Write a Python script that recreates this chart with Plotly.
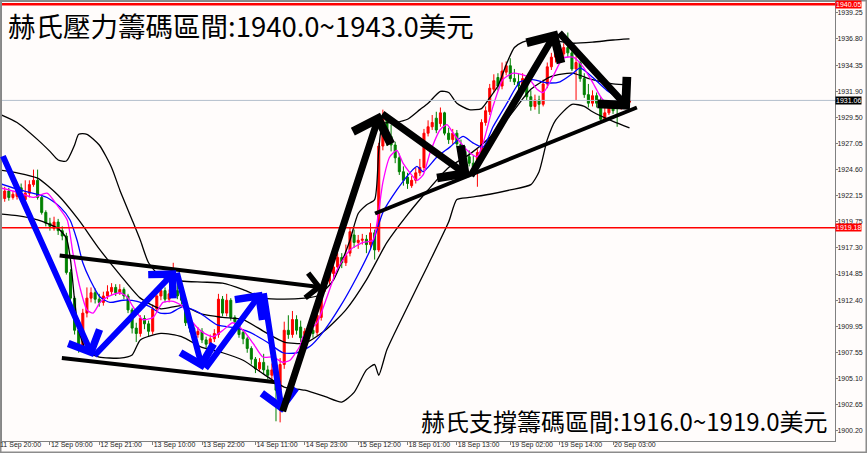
import plotly.graph_objects as go

# hourly XAUUSD candles, bar index 0 = 11 Sep 20:00 (server time)
opens = [
    1922.4, 1923.3, 1921.9, 1922.6, 1922.0, 1922.1, 1922.9, 1921.8, 1922.4, 1923.2,
    1923.6, 1922.0, 1920.6, 1919.6, 1919.1, 1919.7, 1918.9, 1918.4, 1915.0, 1912.6,
    1909.6, 1908.2, 1911.2, 1912.6, 1913.1, 1912.5, 1912.2, 1912.8, 1913.2, 1913.6,
    1913.1, 1913.4, 1912.8, 1911.5, 1909.8, 1909.3, 1910.7, 1910.2, 1909.5, 1911.6,
    1912.8, 1913.3, 1912.5, 1913.0, 1913.3, 1912.8, 1912.4, 1910.3, 1909.8, 1909.2,
    1909.5, 1908.7, 1908.3, 1908.8, 1909.2, 1912.5, 1911.2, 1912.4, 1910.8, 1910.4,
    1909.4, 1908.8, 1907.9, 1906.9, 1906.0, 1906.6, 1905.9, 1905.4, 1905.9, 1904.0,
    1906.4, 1909.6, 1909.2, 1910.6, 1909.9, 1908.9, 1909.8, 1909.6, 1909.4, 1910.8,
    1913.5, 1914.2, 1914.9, 1915.5, 1916.4, 1915.9, 1916.8, 1918.5, 1917.8, 1918.0,
    1918.1, 1917.6, 1918.7, 1917.1, 1926.8, 1929.3, 1927.7, 1926.9, 1925.7, 1924.4,
    1923.9, 1923.1, 1923.6, 1924.3, 1924.8, 1928.0, 1928.6, 1929.4, 1928.9, 1929.9,
    1928.0, 1927.4, 1928.0, 1927.0, 1926.3, 1925.8, 1925.2, 1924.8, 1926.2, 1929.0,
    1930.0, 1932.1, 1933.2, 1932.4, 1933.7, 1934.3, 1933.1, 1932.8, 1932.4, 1933.1,
    1931.4, 1930.5, 1931.1, 1930.7, 1932.6, 1934.2, 1935.1, 1935.8, 1935.4, 1936.0,
    1935.5, 1934.0, 1934.6, 1933.1, 1931.6, 1930.8, 1931.5, 1930.8, 1929.3, 1929.9,
    1930.4, 1930.8, 1930.4, 1930.9, 1930.9,
]
highs = [
    1923.0, 1923.6, 1923.0, 1922.9, 1922.6, 1923.2, 1923.3, 1923.6, 1923.6, 1924.6,
    1924.6, 1922.2, 1920.8, 1920.1, 1920.2, 1920.0, 1919.3, 1918.7, 1915.3, 1912.8,
    1910.2, 1911.6, 1913.6, 1913.6, 1913.5, 1913.0, 1913.2, 1913.8, 1914.0, 1913.9,
    1913.9, 1913.6, 1913.0, 1911.7, 1910.3, 1911.0, 1911.0, 1910.5, 1912.0, 1913.2,
    1913.8, 1913.6, 1913.4, 1915.9, 1914.2, 1913.6, 1912.6, 1910.8, 1910.2, 1909.9,
    1909.8, 1909.0, 1909.2, 1909.7, 1913.0, 1912.8, 1913.0, 1912.6, 1911.0, 1910.6,
    1909.7, 1909.0, 1908.1, 1907.1, 1907.0, 1907.4, 1906.3, 1906.5, 1906.2, 1907.0,
    1910.4, 1911.0, 1911.4, 1911.0, 1910.5, 1909.8, 1910.2, 1910.0, 1911.4, 1913.9,
    1915.0, 1915.4, 1916.1, 1916.8, 1916.8, 1917.6, 1919.2, 1919.0, 1918.5, 1918.6,
    1918.5, 1919.6, 1919.0, 1927.1, 1930.2, 1929.8, 1928.8, 1927.2, 1926.1, 1924.9,
    1924.3, 1924.0, 1924.8, 1925.6, 1928.4, 1929.2, 1929.7, 1930.0, 1930.4, 1930.0,
    1928.5, 1928.4, 1928.3, 1927.4, 1926.8, 1926.4, 1925.9, 1926.5, 1929.3, 1930.5,
    1932.6, 1933.5, 1933.6, 1934.6, 1934.7, 1935.0, 1934.0, 1933.6, 1933.6, 1933.3,
    1932.0, 1931.6, 1931.5, 1933.0, 1934.6, 1935.5, 1936.2, 1936.3, 1936.4, 1937.4,
    1935.9, 1935.2, 1934.8, 1933.6, 1932.6, 1932.0, 1931.8, 1931.4, 1930.4, 1930.8,
    1931.1, 1931.0, 1931.2, 1931.6, 1931.4,
]
lows = [
    1921.9, 1921.6, 1921.6, 1921.7, 1921.8, 1921.8, 1922.1, 1921.2, 1922.0, 1923.0,
    1921.8, 1920.4, 1919.3, 1918.9, 1918.9, 1918.5, 1918.0, 1914.8, 1912.2, 1909.2,
    1907.5, 1907.9, 1910.8, 1912.2, 1912.1, 1911.8, 1911.9, 1912.5, 1912.9, 1912.8,
    1912.9, 1912.5, 1911.2, 1909.3, 1908.5, 1909.0, 1909.7, 1909.0, 1909.2, 1911.3,
    1912.4, 1912.2, 1912.2, 1912.8, 1912.5, 1912.0, 1910.0, 1909.4, 1908.8, 1908.9,
    1908.4, 1907.9, 1908.0, 1908.5, 1908.9, 1910.9, 1910.9, 1910.5, 1910.0, 1908.9,
    1908.3, 1907.5, 1906.4, 1905.6, 1905.7, 1905.5, 1905.0, 1905.0, 1901.1, 1901.0,
    1906.0, 1908.8, 1908.9, 1909.2, 1908.5, 1908.2, 1908.9, 1908.9, 1909.1, 1910.5,
    1913.2, 1913.9, 1914.5, 1915.2, 1915.4, 1915.6, 1916.5, 1917.3, 1917.2, 1917.6,
    1916.8, 1917.3, 1916.2, 1916.9, 1926.4, 1926.8, 1926.3, 1925.2, 1924.1, 1923.1,
    1922.8, 1922.9, 1923.3, 1924.0, 1924.5, 1927.7, 1928.3, 1928.0, 1928.6, 1927.8,
    1927.0, 1927.0, 1926.7, 1926.0, 1925.5, 1924.9, 1924.5, 1923.0, 1925.9, 1928.7,
    1929.7, 1931.8, 1932.0, 1932.1, 1933.4, 1932.8, 1932.5, 1932.0, 1932.2, 1931.1,
    1930.1, 1930.2, 1929.8, 1930.5, 1932.2, 1933.9, 1934.6, 1935.0, 1935.0, 1935.1,
    1933.8, 1931.1, 1932.8, 1931.3, 1930.4, 1930.5, 1930.4, 1929.1, 1929.1, 1929.7,
    1929.8, 1928.6, 1930.2, 1930.7, 1930.8,
]
closes = [
    1922.7, 1921.8, 1922.6, 1922.0, 1922.3, 1922.9, 1922.5, 1922.4, 1923.2, 1923.6,
    1922.0, 1920.6, 1919.6, 1919.3, 1919.7, 1918.9, 1918.4, 1915.0, 1912.6, 1909.6,
    1908.0, 1911.2, 1912.6, 1913.1, 1912.5, 1912.2, 1912.8, 1913.2, 1913.6, 1913.1,
    1913.4, 1912.8, 1911.5, 1909.8, 1909.3, 1910.7, 1910.2, 1909.5, 1911.6, 1912.8,
    1913.3, 1912.5, 1913.0, 1913.3, 1912.8, 1912.4, 1910.3, 1909.8, 1909.2, 1909.5,
    1908.7, 1908.3, 1908.8, 1909.3, 1912.5, 1911.2, 1912.4, 1910.8, 1910.4, 1909.2,
    1908.8, 1907.9, 1906.9, 1906.0, 1906.6, 1905.9, 1905.4, 1905.9, 1904.0, 1906.4,
    1909.6, 1909.2, 1910.6, 1909.6, 1908.9, 1909.5, 1909.3, 1909.3, 1911.0, 1913.5,
    1914.5, 1914.9, 1915.5, 1916.4, 1915.9, 1916.6, 1918.8, 1917.8, 1918.0, 1918.1,
    1917.6, 1918.7, 1917.1, 1926.8, 1929.3, 1927.7, 1926.9, 1925.7, 1924.4, 1923.6,
    1923.3, 1923.6, 1924.3, 1924.8, 1928.0, 1928.6, 1929.0, 1928.3, 1929.9, 1928.0,
    1927.4, 1928.0, 1927.0, 1926.3, 1925.8, 1925.2, 1924.8, 1926.2, 1929.0, 1930.1,
    1932.2, 1932.9, 1932.4, 1933.8, 1934.3, 1933.1, 1932.8, 1932.4, 1933.1, 1931.4,
    1930.5, 1931.1, 1930.7, 1932.6, 1934.2, 1935.1, 1935.8, 1935.4, 1936.0, 1935.5,
    1934.0, 1934.6, 1933.1, 1931.6, 1930.8, 1931.5, 1930.8, 1929.3, 1929.9, 1930.4,
    1930.1, 1930.4, 1930.9, 1931.2, 1931.06,
]
bars = list(range(len(closes)))

# bollinger band
band_idx = [0, 5, 10, 13, 15, 17, 19, 20, 22, 25, 28, 30, 33, 35, 37, 40, 45, 50, 55, 60,
            65, 70, 75, 78, 80, 82, 84, 86, 88, 90, 92, 93, 94, 97, 100, 103, 105, 108,
            110, 112, 115, 118, 120, 122, 124, 126, 128, 130, 135, 140, 145, 150, 154]
band_upper = [1929.9, 1929.0, 1927.4, 1926.3, 1925.5, 1925.4, 1926.9, 1927.9, 1927.9, 1926.9,
              1924.8, 1922.7, 1919.9, 1918.0, 1915.9, 1914.6, 1914.2, 1914.1, 1914.0, 1913.4,
              1912.6, 1912.5, 1912.6, 1912.8, 1913.4, 1914.3, 1916.0, 1918.0, 1920.5, 1921.3,
              1921.8, 1926.4, 1928.9, 1929.0, 1929.3, 1930.2, 1930.8, 1931.9, 1931.8, 1930.8,
              1930.2, 1930.3, 1931.3, 1932.4, 1934.4, 1936.0, 1936.5, 1936.7, 1936.7, 1936.4,
              1936.5, 1936.7, 1936.8]

mid_idx = [0, 5, 10, 15, 20, 25, 30, 35, 40, 45, 50, 55, 60, 65, 70, 75, 80, 85, 90, 95,
           100, 105, 110, 115, 120, 125, 130, 135, 140, 145, 150, 154]
band_mid = [1924.6, 1924.3, 1923.8, 1922.2, 1919.9, 1917.2, 1914.8, 1912.6, 1911.6, 1911.9,
            1911.1, 1910.8, 1910.6, 1909.5, 1908.5, 1908.4, 1909.6, 1911.5, 1914.3, 1917.8,
            1920.4, 1922.7, 1924.8, 1926.0, 1927.6, 1929.7, 1932.1, 1933.3, 1933.6, 1933.0,
            1932.6, 1932.5]

low_idx = [0, 5, 10, 15, 17, 18, 19, 20, 22, 25, 30, 33, 35, 40, 45, 50, 55, 60, 65, 70,
           75, 80, 84, 87, 90, 92, 93, 95, 100, 105, 110, 112, 115, 120, 125, 130, 132, 134,
           136, 140, 143, 145, 150, 154]
band_lower = [1920.5, 1920.3, 1919.9, 1919.1, 1918.2, 1916.2, 1912.4, 1909.6, 1907.6, 1907.1,
              1907.0, 1907.3, 1908.7, 1909.3, 1909.0, 1908.0, 1907.5, 1906.8, 1905.5, 1904.3,
              1904.0, 1903.4, 1902.9, 1903.8, 1905.9, 1906.4, 1905.4, 1907.8, 1911.8, 1915.7,
              1919.7, 1921.8, 1922.0, 1922.3, 1922.7, 1923.2, 1924.4, 1927.4, 1929.2, 1930.7,
              1930.5, 1930.0, 1929.1, 1928.5]

# slow moving average (blue)
slow_idx = [0, 5.7, 12.3, 15.5, 17.9, 19.6, 21.0, 22.8, 25.2, 27.6, 30.8, 34.2, 37.3, 39.8,
            42.2, 45.4, 49.5, 53.7, 58.5, 61.7, 65.8, 69.7, 73.1, 76.3, 79.4, 83.6, 87.7,
            90.9, 92.6, 94.0, 97.4, 100.6, 102.3, 103.8, 107.2, 110.3, 113.5, 115.9, 118.4,
            120.8, 124.2, 127.4, 130.5, 134.0, 137.1, 140.3, 142.0, 145.1, 148.5, 153.4]
ma_slow = [1923.4, 1922.7, 1922.0, 1921.1, 1919.9, 1918.0, 1915.9, 1914.3, 1912.7, 1912.2,
           1912.4, 1912.3, 1911.8, 1911.2, 1911.2, 1911.8, 1911.2, 1910.1, 1909.8, 1909.4,
           1908.5, 1907.5, 1907.5, 1908.1, 1909.4, 1911.8, 1914.6, 1917.1, 1919.0, 1920.6,
           1922.7, 1924.3, 1924.9, 1924.4, 1925.8, 1926.7, 1927.7, 1927.1, 1926.7, 1928.6,
           1930.8, 1932.8, 1933.0, 1932.7, 1932.8, 1933.6, 1934.1, 1933.2, 1932.0, 1930.9]

# fast moving average (magenta)
fast_idx = [0.9, 5.0, 8.9, 12.3, 14.7, 17.2, 18.6, 20.3, 22.0, 23.5, 25.2, 26.9, 30.0, 31.8,
            33.2, 35.6, 38.1, 40.5, 43.0, 45.4, 47.8, 50.2, 52.7, 55.1, 57.5, 60.0, 62.4,
            64.8, 67.3, 69.7, 71.4, 73.8, 74.6, 78.0, 80.4, 82.8, 86.0, 89.2, 91.6, 92.8,
            94.0, 95.7, 97.4, 98.9, 100.6, 102.3, 103.8, 105.5, 107.9, 109.6, 111.1, 114.5,
            116.9, 118.4, 120.8, 123.2, 125.7, 129.1, 131.5, 133.0, 135.4, 137.8, 140.3,
            142.7, 145.1, 147.6, 151.0, 153.4]
ma_fast = [1922.9, 1922.5, 1922.0, 1922.4, 1921.3, 1919.9, 1916.8, 1913.6, 1911.5, 1911.2,
           1912.2, 1912.7, 1913.1, 1912.7, 1911.8, 1910.6, 1910.8, 1912.2, 1912.3, 1911.8,
           1910.3, 1909.4, 1909.0, 1909.6, 1910.3, 1909.6, 1908.4, 1907.1, 1907.1, 1906.6,
           1906.8, 1908.1, 1909.0, 1910.3, 1912.7, 1915.2, 1917.1, 1917.8, 1918.0, 1920.2,
           1923.4, 1925.8, 1926.4, 1925.2, 1924.3, 1923.6, 1924.1, 1926.2, 1928.3, 1928.8,
           1928.0, 1926.4, 1925.8, 1927.1, 1930.5, 1933.0, 1933.6, 1933.3, 1932.1, 1931.8,
           1933.3, 1935.0, 1935.1, 1934.2, 1932.7, 1931.1, 1930.8, 1930.9]

tick_bars = [13, 25, 38, 50, 63, 75, 88, 100, 112, 125, 137, 150]
tick_text = ["12 Sep 09:00", "12 Sep 21:00", "13 Sep 10:00", "13 Sep 22:00", "14 Sep 11:00",
             "14 Sep 23:00", "15 Sep 12:00", "18 Sep 01:00", "18 Sep 13:00", "19 Sep 02:00",
             "19 Sep 14:00", "20 Sep 03:00"]
price_ticks = [1939.25, 1936.80, 1934.35, 1931.90, 1929.50, 1927.05, 1924.60, 1922.15, 1919.75,
               1917.30, 1914.85, 1912.40, 1909.95, 1907.55, 1905.10, 1902.65, 1900.20]

resistance_line = 1940.05
support_line = 1919.18
last_price = 1931.06

# hand-drawn arrows: (tail bar, tail price, head bar, head price)
blue_arrows = [
    (1.4, 1926.0, 23.5, 1907.1),
    (23.5, 1907.1, 43.7, 1915.2),
    (43.8, 1915.1, 50.2, 1905.9),
    (50.6, 1905.9, 64.6, 1913.2),
    (65.0, 1913.2, 69.5, 1901.9),
]
black_arrows = [
    (69.5, 1901.9, 93.3, 1929.9),
    (93.5, 1929.9, 115.2, 1923.9),
    (115.2, 1923.9, 136.4, 1937.6),
    (136.6, 1937.5, 154.1, 1930.2),
]
channel_top = (15.0, 1916.6, 79.4, 1913.6)
channel_bottom = (15.9, 1907.0, 69.0, 1904.7)
rising_trend = (92.1, 1920.5, 155.8, 1930.4)

fig = go.Figure()

fig.add_trace(go.Candlestick(
    x=bars, open=opens, high=highs, low=lows, close=closes,
    increasing=dict(line=dict(color="#ff0000", width=1), fillcolor="#ff0000"),
    decreasing=dict(line=dict(color="#008000", width=1), fillcolor="#008000"),
    showlegend=False, hoverinfo="skip",
))

for xs, ys, col in [
    (band_idx, band_upper, "black"),
    (mid_idx, band_mid, "black"),
    (low_idx, band_lower, "black"),
    (slow_idx, ma_slow, "#0000ff"),
    (fast_idx, ma_fast, "#ff00ff"),
]:
    fig.add_trace(go.Scatter(
        x=xs, y=ys, mode="lines",
        line=dict(color=col, width=1.3, shape="spline", smoothing=0.6),
        showlegend=False, hoverinfo="skip",
    ))

shapes = [
    dict(type="line", xref="paper", x0=0, x1=1, yref="y", y0=resistance_line, y1=resistance_line,
         line=dict(color="#ff0000", width=2.5)),
    dict(type="line", xref="paper", x0=0, x1=1, yref="y", y0=support_line, y1=support_line,
         line=dict(color="#ff0000", width=1.5)),
    dict(type="line", xref="paper", x0=0, x1=1, yref="y", y0=last_price, y1=last_price,
         line=dict(color="#b4bfcc", width=1)),
    dict(type="rect", xref="paper", yref="paper", x0=-0.0024, x1=1.0384, y0=-0.0273, y1=1.0046,
         line=dict(color="#8c8c8c", width=3), layer="above"),
]
for (x0, y0, x1, y1) in [channel_bottom, rising_trend]:
    shapes.append(dict(type="line", x0=x0, y0=y0, x1=x1, y1=y1,
                       line=dict(color="black", width=4)))

annotations = []


def arrow(seg, color, width, size):
    x0, y0, x1, y1 = seg
    return dict(x=x1, y=y1, ax=x0, ay=y0, xref="x", yref="y", axref="x", ayref="y",
                text="", showarrow=True, arrowhead=4, arrowwidth=width,
                arrowsize=size, arrowcolor=color, standoff=0)


annotations.append(arrow(channel_top, "black", 4, 1.2))
for seg in blue_arrows:
    annotations.append(arrow(seg, "#0000ff", 6, 1.1))
for seg in black_arrows:
    annotations.append(arrow(seg, "black", 7, 1.1))

annotations.append(dict(
    xref="paper", yref="paper", x=0.005, y=0.948, xanchor="left", yanchor="middle",
    text="赫氏壓力籌碼區間:1940.0~1943.0美元", showarrow=False,
    font=dict(family="Noto Sans CJK TC", size=27.5, color="black"),
))
annotations.append(dict(
    xref="paper", yref="paper", x=0.5, y=0.047, xanchor="left", yanchor="middle",
    text="赫氏支撐籌碼區間:1916.0~1919.0美元", showarrow=False,
    font=dict(family="Noto Sans CJK TC", size=24, color="black"),
))

# price tags on the right scale
for val, bg in [(resistance_line, "#ff0000"), (support_line, "#ff0000"), (last_price, "black")]:
    annotations.append(dict(
        xref="paper", yref="y", x=1.0, y=val, xanchor="left", yanchor="middle",
        text=f"{val:.2f}", showarrow=False, bgcolor=bg, borderpad=0,
        font=dict(family="Liberation Sans", size=7, color="white"),
    ))

# first date label is cut off by the left edge
annotations.append(dict(
    xref="paper", yref="paper", x=-0.0048, y=0.004, xanchor="left", yanchor="top",
    text="11 Sep 20:00", showarrow=False,
    font=dict(family="Liberation Sans", size=7, color="#222222"),
))

fig.update_layout(
    template="none",
    width=867, height=453,
    margin=dict(l=2, r=32, t=2, b=12),
    paper_bgcolor="#fffcfb", plot_bgcolor="#fffcfb",
    showlegend=False,
    shapes=shapes,
    annotations=annotations,
    xaxis=dict(
        range=[1.34, 204.0], rangeslider=dict(visible=False), automargin=False,
        tickvals=tick_bars, ticktext=tick_text, ticklabelposition="outside right",
        tickangle=0,
        ticks="outside", ticklen=3, tickcolor="#808080", ticklabelstandoff=-3,
        tickfont=dict(family="Liberation Sans", size=7, color="#222222"),
        showgrid=False, zeroline=False,
        showline=True, linecolor="#808080", linewidth=1, mirror=True,
    ),
    yaxis=dict(
        range=[1899.26, 1940.25], side="right", automargin=False,
        tickvals=price_ticks, ticktext=[f"{v:.2f}" for v in price_ticks],
        ticks="outside", ticklen=2, tickcolor="#808080", ticklabelstandoff=-2,
        tickfont=dict(family="Liberation Sans", size=7, color="#222222"),
        showgrid=False, zeroline=False,
        showline=True, linecolor="#808080", linewidth=1, mirror=True,
    ),
)

# the page's default body margin would push the chart 8px off the window
fig.write_html("out.html", config={"displayModeBar": False},
               post_script="document.body.style.margin='0';")
